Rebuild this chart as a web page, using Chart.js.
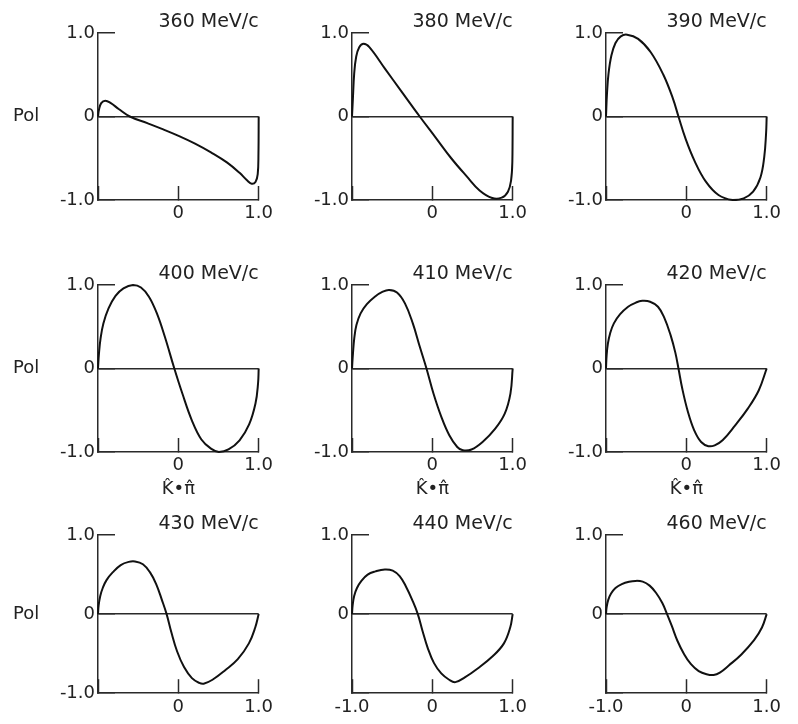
<!DOCTYPE html>
<html>
<head>
<meta charset="utf-8">
<script src="https://cdn.jsdelivr.net/npm/chart.js@4.4.1/dist/chart.umd.min.js"></script>
<style>
  html, body { margin: 0; padding: 0; background: #fff; width: 798px; height: 724px; overflow: hidden; position: relative; }
  canvas { position: absolute; }
</style>
</head>
<body>
<script>
// Beam momenta, one panel each (MeV/c)
const momenta = [360, 380, 390, 400, 410, 420, 430, 440, 460];

// Polarization vs K.pi cosine, one pair of arrays per momentum
const cos360 = [-1, -0.988, -0.96, -0.909, -0.84, -0.743, -0.604, -0.386, -0.188, 0.01, 0.208, 0.406, 0.604, 0.762, 0.861, 0.913, 0.96, 0.988, 0.997, 1];
const pol360 = [0, 0.08, 0.16, 0.19, 0.16, 0.09, 0, -0.08, -0.155, -0.235, -0.325, -0.43, -0.55, -0.675, -0.77, -0.806, -0.785, -0.69, -0.45, 0];

const cos380 = [-1, -0.988, -0.973, -0.949, -0.91, -0.855, -0.784, -0.588, -0.392, -0.157, 0.039, 0.235, 0.431, 0.588, 0.745, 0.863, 0.941, 0.98, 0.996, 1];
const pol380 = [0, 0.23, 0.51, 0.71, 0.83, 0.87, 0.83, 0.57, 0.31, 0, -0.25, -0.5, -0.72, -0.885, -0.976, -0.972, -0.9, -0.765, -0.526, 0];

const cos390 = [-1, -0.988, -0.969, -0.933, -0.882, -0.816, -0.737, -0.6, -0.443, -0.286, -0.169, -0.098, -0.012, 0.106, 0.243, 0.4, 0.576, 0.714, 0.831, 0.922, 0.969, 0.992, 1];
const pol390 = [0, 0.27, 0.51, 0.73, 0.88, 0.96, 0.98, 0.93, 0.77, 0.5, 0.22, 0, -0.26, -0.54, -0.78, -0.94, -1.0, -0.98, -0.9, -0.73, -0.49, -0.21, 0];

const cos400 = [-1, -0.988, -0.968, -0.933, -0.869, -0.782, -0.683, -0.564, -0.465, -0.366, -0.267, -0.168, -0.05, 0.05, 0.168, 0.287, 0.406, 0.505, 0.624, 0.762, 0.881, 0.96, 0.992, 1];
const pol400 = [0, 0.18, 0.36, 0.54, 0.72, 0.87, 0.96, 1.0, 0.97, 0.86, 0.66, 0.38, 0, -0.3, -0.62, -0.85, -0.96, -1.0, -0.97, -0.86, -0.67, -0.42, -0.18, 0];

const cos410 = [-1, -0.988, -0.972, -0.945, -0.893, -0.815, -0.716, -0.617, -0.538, -0.44, -0.341, -0.243, -0.156, -0.073, 0.014, 0.112, 0.211, 0.31, 0.38, 0.487, 0.625, 0.783, 0.901, 0.972, 1];
const pol410 = [0, 0.18, 0.36, 0.52, 0.66, 0.77, 0.86, 0.92, 0.94, 0.91, 0.78, 0.54, 0.26, 0, -0.3, -0.58, -0.8, -0.94, -0.98, -0.97, -0.88, -0.72, -0.54, -0.3, 0];

const cos420 = [-1, -0.992, -0.976, -0.949, -0.902, -0.824, -0.725, -0.627, -0.549, -0.451, -0.353, -0.275, -0.196, -0.137, -0.098, -0.051, 0.02, 0.098, 0.184, 0.275, 0.353, 0.451, 0.608, 0.765, 0.902, 1];
const pol420 = [0, 0.16, 0.3, 0.42, 0.54, 0.65, 0.74, 0.79, 0.81, 0.8, 0.74, 0.61, 0.4, 0.19, 0, -0.24, -0.52, -0.74, -0.88, -0.93, -0.92, -0.86, -0.68, -0.48, -0.26, 0];

const cos430 = [-1, -0.992, -0.972, -0.941, -0.894, -0.815, -0.717, -0.618, -0.539, -0.441, -0.354, -0.276, -0.205, -0.146, -0.087, -0.016, 0.071, 0.169, 0.26, 0.315, 0.425, 0.583, 0.74, 0.878, 0.957, 1];
const pol430 = [0, 0.11, 0.23, 0.33, 0.43, 0.53, 0.62, 0.66, 0.665, 0.63, 0.53, 0.38, 0.18, 0, -0.23, -0.47, -0.67, -0.81, -0.87, -0.88, -0.83, -0.71, -0.57, -0.37, -0.17, 0];

const cos440 = [-1, -0.992, -0.973, -0.938, -0.883, -0.805, -0.708, -0.591, -0.493, -0.407, -0.329, -0.251, -0.181, -0.123, -0.057, 0.021, 0.111, 0.209, 0.287, 0.404, 0.56, 0.754, 0.891, 0.969, 1];
const pol440 = [0, 0.11, 0.23, 0.33, 0.42, 0.5, 0.54, 0.565, 0.55, 0.48, 0.35, 0.18, 0, -0.21, -0.43, -0.62, -0.75, -0.83, -0.86, -0.8, -0.69, -0.53, -0.37, -0.17, 0];

const cos460 = [-1, -0.992, -0.972, -0.937, -0.882, -0.803, -0.713, -0.634, -0.543, -0.457, -0.378, -0.299, -0.24, -0.181, -0.11, -0.031, 0.055, 0.154, 0.252, 0.339, 0.417, 0.528, 0.685, 0.843, 0.941, 1];
const pol460 = [0, 0.09, 0.18, 0.26, 0.33, 0.38, 0.41, 0.42, 0.41, 0.36, 0.27, 0.14, 0, -0.15, -0.34, -0.5, -0.63, -0.72, -0.76, -0.77, -0.74, -0.65, -0.51, -0.33, -0.17, 0];

// Tick values on both axes
const axisTicks = [-1, 0, 1];

const curves = [
  [cos360, pol360], [cos380, pol380], [cos390, pol390],
  [cos400, pol400], [cos410, pol410], [cos420, pol420],
  [cos430, pol430], [cos440, pol440], [cos460, pol460]
];

// Page layout of the 3x3 grid of plot areas
const plotLefts = [98, 352, 606];
const plotTops = [33, 285, 535];
const plotW = 170, plotH = 167;
const titleH = 33, padR = 22;
const bottomHs = [48, 48, 22];

const FAMILY = '"DejaVu Sans", sans-serif';
const ink = '#222';
const axisInk = '#2a2a2a';
const clear = 'rgba(0,0,0,0)';

const fmtTick = v => (v === 0 ? '0' : v.toFixed(1));

// Horizontal "Pol" label beside the left column
const sideLabel = {
  id: 'sideLabel',
  afterDraw(chart, args, opts) {
    if (!opts.text) return;
    const { ctx, chartArea, scales } = chart;
    ctx.save();
    ctx.font = '18px ' + FAMILY;
    ctx.fillStyle = ink;
    ctx.textAlign = 'left';
    ctx.textBaseline = 'middle';
    ctx.fillText(opts.text, chartArea.left - 85, scales.y.getPixelForValue(0));
    ctx.restore();
  }
};

momenta.forEach((p, i) => {
  const row = Math.floor(i / 3), col = i % 3;
  const padL = col === 0 ? 98 : 60;
  const bottomH = bottomHs[row];
  const canvas = document.createElement('canvas');
  const W = padL + plotW + padR;
  const H = titleH + plotH + bottomH;
  canvas.width = W; canvas.height = H;
  canvas.style.left = (plotLefts[col] - padL) + 'px';
  canvas.style.top = (plotTops[row] - titleH) + 'px';
  canvas.style.width = W + 'px';
  canvas.style.height = H + 'px';
  document.body.appendChild(canvas);

  const [xs, ys] = curves[i];
  const points = xs.map((x, k) => ({ x, y: ys[k] }));
  const bottomRow = row === 2;
  const showXMin = bottomRow && col > 0;   // "-1.0" under the axis
  const showYMin = !(bottomRow && col > 0);

  new Chart(canvas, {
    type: 'line',
    data: {
      datasets: [{
        data: points,
        borderColor: '#111',
        borderWidth: 2,
        pointRadius: 0,
        fill: false,
        tension: 0.4,
        clip: 8
      }]
    },
    options: {
      responsive: false,
      animation: false,
      devicePixelRatio: 1,
      events: [],
      layout: { padding: { left: 0, right: padR, top: 0, bottom: 0 } },
      plugins: {
        legend: { display: false },
        tooltip: { enabled: false },
        title: {
          display: true,
          text: p + ' MeV/c',
          align: 'end',
          fullSize: false,
          color: ink,
          font: { family: FAMILY, size: 19, weight: 'normal' },
          padding: { top: 10.2, bottom: 0 }
        },
        sideLabel: { text: col === 0 ? 'Pol' : '' }
      },
      scales: {
        x: {
          type: 'linear',
          min: -1, max: 1,
          afterBuildTicks: s => { s.ticks = axisTicks.map(v => ({ value: v })); },
          afterFit: s => { s.height = bottomH; },
          grid: {
            display: true,
            drawOnChartArea: false,
            drawTicks: true,
            tickLength: -14,
            tickColor: axisInk,
            tickWidth: 1.5
          },
          border: { display: true, color: axisInk, width: 1.5 },
          ticks: {
            autoSkip: false,
            maxRotation: 0,
            padding: 17,
            color: ink,
            font: { family: FAMILY, size: 18 },
            callback: v => (v === -1 && !showXMin ? '' : fmtTick(v))
          },
          title: {
            display: row === 1,
            text: 'K\u0302\u2022\u03C0\u0302',
            color: ink,
            font: { family: FAMILY, size: 18 },
            padding: { top: 0, bottom: 0 }
          }
        },
        y: {
          type: 'linear',
          min: -1, max: 1,
          afterBuildTicks: s => { s.ticks = axisTicks.map(v => ({ value: v })); },
          afterFit: s => { s.width = padL; },
          grid: {
            display: true,
            drawOnChartArea: true,
            color: c => (c.tick && c.tick.value === 0 ? axisInk : clear),
            lineWidth: 1.5,
            drawTicks: true,
            tickLength: -17,
            tickColor: axisInk,
            tickWidth: 1.5
          },
          border: { display: true, color: axisInk, width: 1.5 },
          ticks: {
            autoSkip: false,
            padding: 20,
            color: ink,
            font: { family: FAMILY, size: 18 },
            callback: v => (v === -1 && !showYMin ? '' : fmtTick(v))
          }
        }
      }
    },
    plugins: [sideLabel]
  });
});
</script>
</body>
</html>
